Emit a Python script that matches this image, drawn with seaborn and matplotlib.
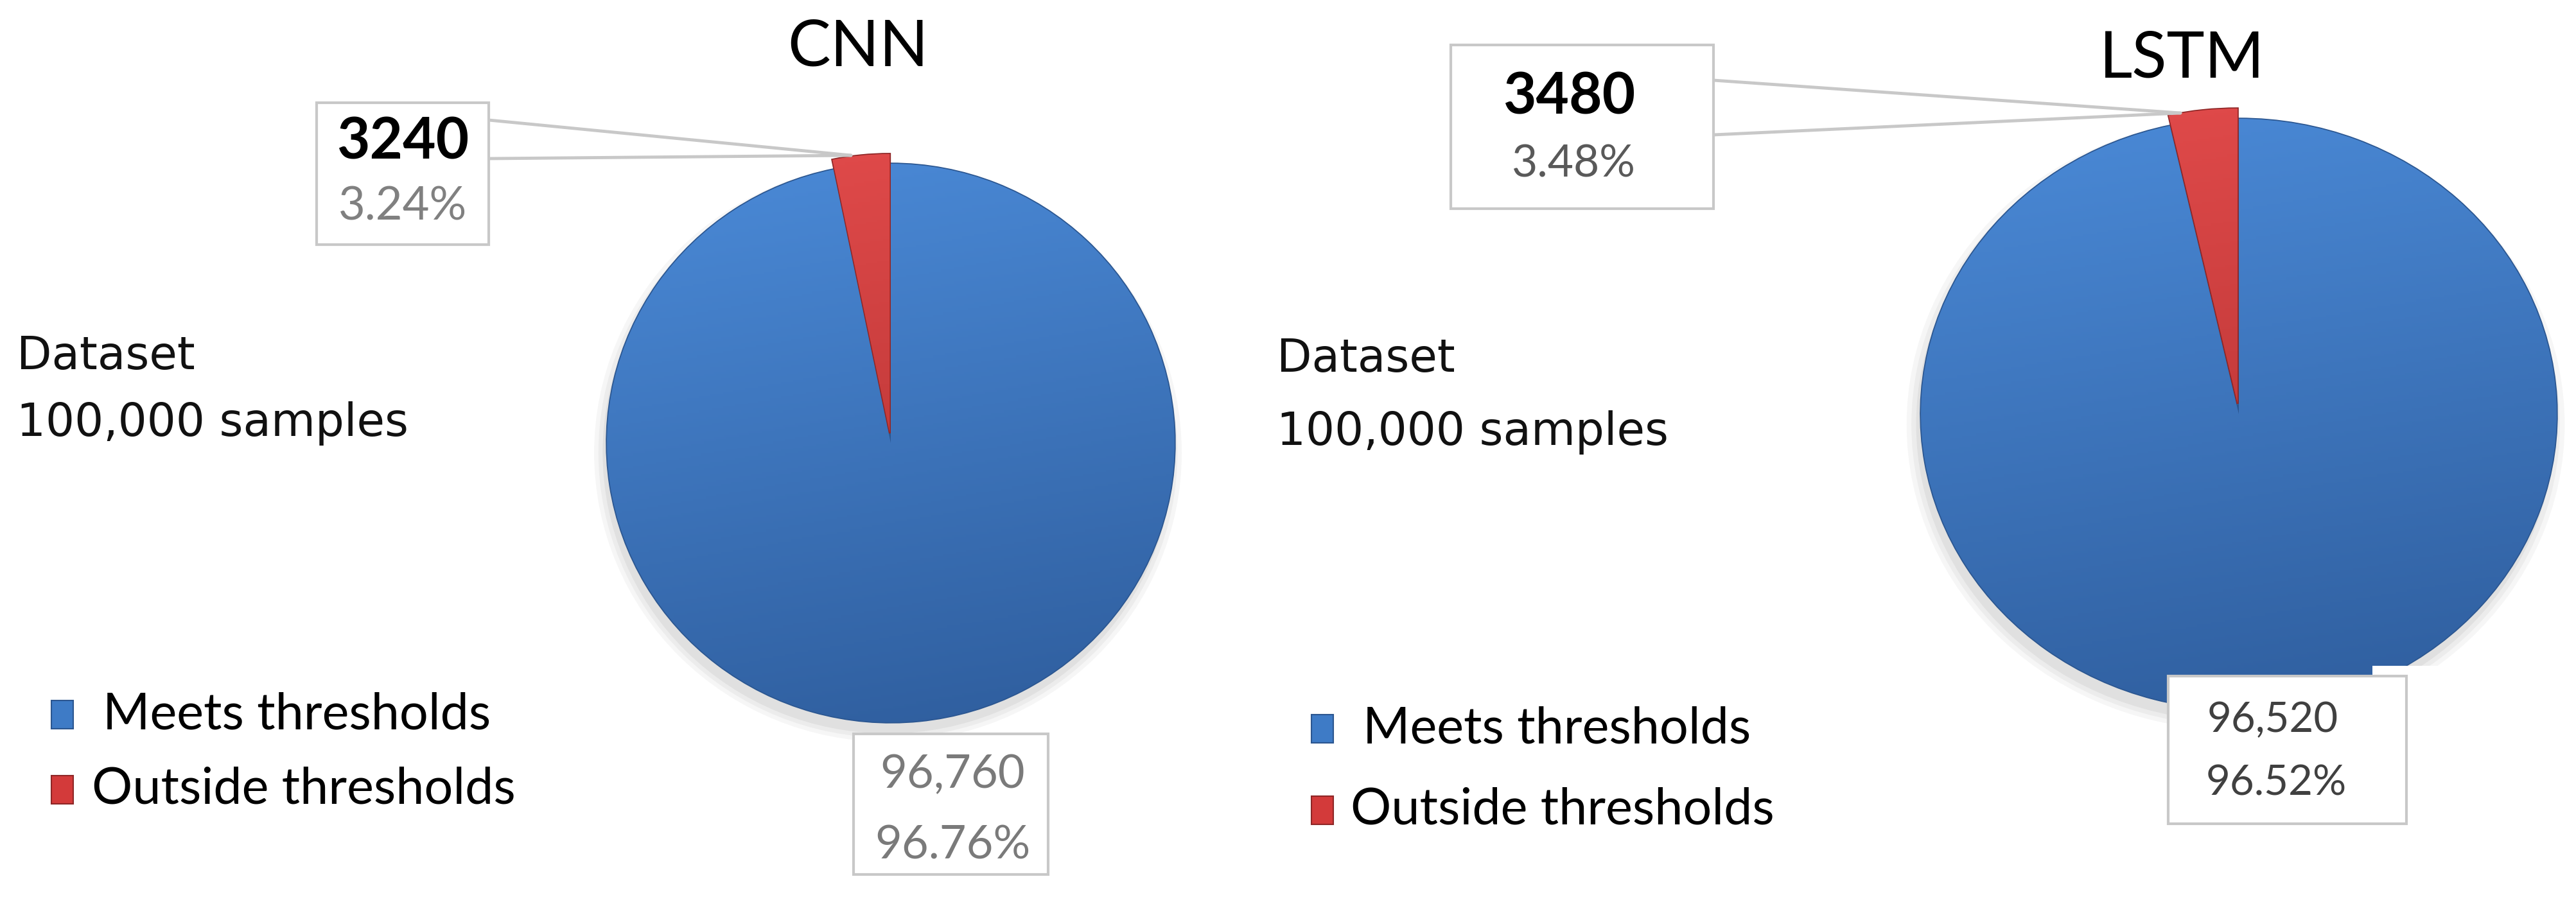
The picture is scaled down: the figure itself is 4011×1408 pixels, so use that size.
import numpy as np
import matplotlib
matplotlib.use("Agg")
import matplotlib.pyplot as plt
import seaborn as sns
from matplotlib.colors import LinearSegmentedColormap
from matplotlib.patches import Rectangle, Ellipse
from matplotlib.lines import Line2D

# data
models = ["CNN", "LSTM"]
categories = ["Meets thresholds", "Outside thresholds"]
meets = [96760, 96520]
outside = [3240, 3480]
total_samples = 100000

sns.set_theme(style="white")
plt.rcParams["font.family"] = ["Lato", "DejaVu Sans"]

palette = sns.color_palette(["#3E7BC6", "#D33A3A"])
grad_colors = [("#2F5E9E", "#4A89D6"), ("#A92C2C", "#E04A4A")]
edge_colors = ["#2B5690", "#8E2626"]

W, H = 4011, 1408
fig = plt.figure(figsize=(W / 100, H / 100), dpi=100)
fig.patch.set_facecolor("white")


def fx(x):
    return x / W


def fy(y):
    return 1 - y / H


# layout in pixels of the full picture
layout = [
    dict(center=(1387, 690), rx=442, ry=435, explode=0.035,
         title=(1336, 74),
         top_box=(493, 160, 761, 381), top_val=(627, 222), top_pct=(627, 322),
         pct_color="#808080", top_pct_size=52,
         lead=[(761, 187), (761, 247)], lead_tip=(1325, 242),
         bot_box=(1329, 1143, 1632, 1362), bot_val=(1483, 1207), bot_pct=(1483, 1317),
         bot_color="#7a7a7a", bot_size=52,
         dataset=(26, 556, 660),
         legend_sq=80, legend_y=(1113, 1230), legend_tx=(160, 143)),
    dict(center=(3486, 645), rx=495, ry=460, explode=0.035,
         title=(3398, 92),
         top_box=(2259, 70, 2668, 325), top_val=(2443, 152), top_pct=(2450, 256),
         pct_color="#595959", top_pct_size=50,
         lead=[(2668, 125), (2668, 210)], lead_tip=(3395, 176),
         bot_box=(3376, 1053, 3747, 1283), bot_val=(3539, 1122), bot_pct=(3544, 1220),
         bot_color="#404040", bot_size=47,
         dataset=(1988, 559, 673),
         legend_sq=2042, legend_y=(1135, 1262), legend_tx=(2122, 2103)),
]

for i, model in enumerate(models):
    L = layout[i]
    cx, cy = L["center"]
    lim = 1.1
    aw, ah = 2 * lim * L["rx"], 2 * lim * L["ry"]
    ax = fig.add_axes([fx(cx - aw / 2), fy(cy + ah / 2), aw / W, ah / H])
    values = [meets[i], outside[i]]
    wedges, _ = ax.pie(values, colors=palette, startangle=90, counterclock=False,
                       explode=[0, L["explode"]],
                       wedgeprops=dict(linewidth=2.5))
    # soft shadow under the pie
    for s, a in [(2.07, 0.05), (2.04, 0.06), (2.01, 0.08)]:
        ax.add_patch(Ellipse((-0.01, -0.035), s, s, facecolor="#555555",
                             edgecolor="none", alpha=a, zorder=0.5))
    # soft shaded fill like the original 3D style
    yy, xx = np.mgrid[-lim:lim:300j, -lim:lim:300j]
    shade = 0.5 + 0.45 * yy - 0.08 * xx
    shade = np.clip(shade, 0, 1)
    for w, (c0, c1), ec in zip(wedges, grad_colors, edge_colors):
        w.set_edgecolor(ec)
        cmap = LinearSegmentedColormap.from_list("g", [c0, c1])
        im = ax.imshow(shade, extent=[-lim, lim, -lim, lim], origin="lower",
                       cmap=cmap, vmin=0, vmax=1, aspect="auto",
                       zorder=w.get_zorder() + 0.1)
        im.set_clip_path(w)
    ax.set_xlim(-lim, lim)
    ax.set_ylim(-lim, lim)
    ax.set_aspect("auto")
    ax.axis("off")

    # title
    fig.text(fx(L["title"][0]), fy(L["title"][1]), model, ha="center", va="center",
             fontsize=72, color="black")

    # label box for the small slice
    x0, y0, x1, y1 = L["top_box"]
    fig.add_artist(Rectangle((fx(x0), fy(y1)), (x1 - x0) / W, (y1 - y0) / H,
                             transform=fig.transFigure, facecolor="white",
                             edgecolor="#C8C8C8", linewidth=3, zorder=5))
    for p in L["lead"]:
        fig.add_artist(Line2D([fx(p[0]), fx(L["lead_tip"][0])],
                              [fy(p[1]), fy(L["lead_tip"][1])],
                              transform=fig.transFigure, color="#C8C8C8",
                              linewidth=3.5, zorder=4))
    fig.text(fx(L["top_val"][0]), fy(L["top_val"][1]), f"{outside[i]}",
             ha="center", va="center", fontsize=64, fontweight="bold",
             color="black", zorder=6)
    fig.text(fx(L["top_pct"][0]), fy(L["top_pct"][1]),
             f"{outside[i] / total_samples * 100:.2f}%",
             ha="center", va="center", fontsize=L["top_pct_size"],
             color=L["pct_color"], zorder=6)

    # label box for the large slice
    x0, y0, x1, y1 = L["bot_box"]
    if i == 1:
        fig.add_artist(Rectangle((fx(3694), fy(1110)), 220 / W, 73 / H,
                                 transform=fig.transFigure, facecolor="white",
                                 edgecolor="none", zorder=4))
    fig.add_artist(Rectangle((fx(x0), fy(y1)), (x1 - x0) / W, (y1 - y0) / H,
                             transform=fig.transFigure, facecolor="white",
                             edgecolor="#C8C8C8", linewidth=3, zorder=5))
    fig.text(fx(L["bot_val"][0]), fy(L["bot_val"][1]), f"{meets[i]:,}",
             ha="center", va="center", fontsize=L["bot_size"],
             color=L["bot_color"], zorder=6)
    fig.text(fx(L["bot_pct"][0]), fy(L["bot_pct"][1]),
             f"{meets[i] / total_samples * 100:.2f}%",
             ha="center", va="center", fontsize=L["bot_size"],
             color=L["bot_color"], zorder=6)

    # dataset note
    dx, dy1, dy2 = L["dataset"]
    fig.text(fx(dx), fy(dy1), "Dataset", ha="left", va="center",
             fontsize=51, family="DejaVu Sans", color="#111111")
    fig.text(fx(dx), fy(dy2), f"{total_samples:,} samples", ha="left", va="center",
             fontsize=51, family="DejaVu Sans", color="#111111")

    # legend
    for k, cat in enumerate(categories):
        ly = L["legend_y"][k]
        fig.add_artist(Rectangle((fx(L["legend_sq"]), fy(ly + 22)), 34 / W, 44 / H,
                                 transform=fig.transFigure,
                                 facecolor=palette[k], edgecolor=edge_colors[k],
                                 linewidth=1.5, zorder=5))
        fig.text(fx(L["legend_tx"][k]), fy(ly), cat, ha="left", va="center",
                 fontsize=57, color="black")

fig.savefig("out.png", dpi=100, facecolor="white")
